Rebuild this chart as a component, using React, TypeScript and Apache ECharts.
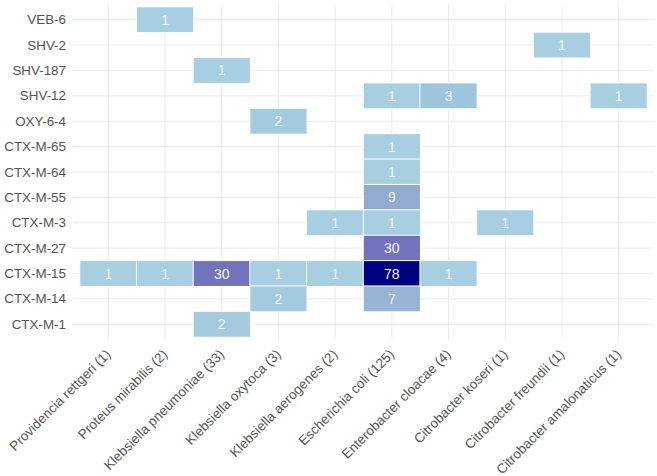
import React, { useEffect, useRef } from "react";
import * as echarts from "echarts";

// Isolate species (with isolate totals), left to right
const species = [
  "Providencia rettgeri (1)",
  "Proteus mirabilis (2)",
  "Klebsiella pneumoniae (33)",
  "Klebsiella oxytoca (3)",
  "Klebsiella aerogenes (2)",
  "Escherichia coli (125)",
  "Enterobacter cloacae (4)",
  "Citrobacter koseri (1)",
  "Citrobacter freundii (1)",
  "Citrobacter amalonaticus (1)",
];

// ESBL genes, bottom to top
const genes = [
  "CTX-M-1",
  "CTX-M-14",
  "CTX-M-15",
  "CTX-M-27",
  "CTX-M-3",
  "CTX-M-55",
  "CTX-M-64",
  "CTX-M-65",
  "OXY-6-4",
  "SHV-12",
  "SHV-187",
  "SHV-2",
  "VEB-6",
];

// Isolate counts per species / gene
const counts: [string, string, number][] = [
  ["Proteus mirabilis (2)", "VEB-6", 1],
  ["Citrobacter freundii (1)", "SHV-2", 1],
  ["Klebsiella pneumoniae (33)", "SHV-187", 1],
  ["Escherichia coli (125)", "SHV-12", 1],
  ["Enterobacter cloacae (4)", "SHV-12", 3],
  ["Citrobacter amalonaticus (1)", "SHV-12", 1],
  ["Klebsiella oxytoca (3)", "OXY-6-4", 2],
  ["Escherichia coli (125)", "CTX-M-65", 1],
  ["Escherichia coli (125)", "CTX-M-64", 1],
  ["Escherichia coli (125)", "CTX-M-55", 9],
  ["Klebsiella aerogenes (2)", "CTX-M-3", 1],
  ["Escherichia coli (125)", "CTX-M-3", 1],
  ["Citrobacter koseri (1)", "CTX-M-3", 1],
  ["Escherichia coli (125)", "CTX-M-27", 30],
  ["Providencia rettgeri (1)", "CTX-M-15", 1],
  ["Proteus mirabilis (2)", "CTX-M-15", 1],
  ["Klebsiella pneumoniae (33)", "CTX-M-15", 30],
  ["Klebsiella oxytoca (3)", "CTX-M-15", 1],
  ["Klebsiella aerogenes (2)", "CTX-M-15", 1],
  ["Escherichia coli (125)", "CTX-M-15", 78],
  ["Enterobacter cloacae (4)", "CTX-M-15", 1],
  ["Klebsiella oxytoca (3)", "CTX-M-14", 2],
  ["Escherichia coli (125)", "CTX-M-14", 7],
  ["Klebsiella pneumoniae (33)", "CTX-M-1", 2],
];

// Fill scale: light blue to navy
const fillStops: [number, [number, number, number]][] = [
  [1, [167, 207, 225]],
  [3, [159, 197, 220]],
  [9, [147, 171, 210]],
  [30, [114, 115, 188]],
  [78, [0, 0, 128]],
];

function fillFor(v: number): string {
  let i = 0;
  while (i < fillStops.length - 2 && v > fillStops[i + 1][0]) i++;
  const [v0, c0] = fillStops[i];
  const [v1, c1] = fillStops[i + 1];
  const t = Math.max(0, Math.min(1, (v - v0) / (v1 - v0)));
  const c = c0.map((a, k) => Math.round(a + (c1[k] - a) * t));
  return `rgb(${c[0]},${c[1]},${c[2]})`;
}

const FONT = "'Liberation Sans', Arial, sans-serif";
const GRID_COLOR = "#ebebeb";
const LABEL_COLOR = "#555555";

export default function App() {
  const ref = useRef<HTMLDivElement>(null);

  useEffect(() => {
    document.body.style.margin = "0";
    document.body.style.overflow = "hidden";
    if (!ref.current) return;
    const chart = echarts.init(ref.current, null, { renderer: "svg" });

    const cells = counts.map(([sp, g, n]) => [species.indexOf(sp), genes.indexOf(g), n]);
    const vMin = fillStops[0][0];
    const vMax = fillStops[fillStops.length - 1][0];
    const ramp: string[] = [];
    for (let v = vMin; v <= vMax; v++) ramp.push(fillFor(v));

    const ext = 0.13;

    chart.setOption({
      animation: false,
      backgroundColor: "#ffffff",
      grid: {
        left: 80,
        right: 10,
        top: 7,
        bottom: 139,
        containLabel: false,
        outerBoundsMode: "none",
      },
      visualMap: {
        show: false,
        type: "continuous",
        dimension: 2,
        min: vMin,
        max: vMax,
        inRange: { color: ramp },
      },
      xAxis: {
        type: "category",
        data: species,
        axisLine: { show: false },
        axisTick: { show: false },
        splitLine: { show: false },
        axisLabel: {
          rotate: 45,
          interval: 0,
          margin: 15,
          color: LABEL_COLOR,
          fontSize: 13.5,
          fontFamily: FONT,
        },
      },
      yAxis: {
        type: "category",
        data: genes,
        axisLine: { show: false },
        axisTick: { show: false },
        splitLine: { show: false },
        axisLabel: {
          interval: 0,
          margin: 14,
          color: LABEL_COLOR,
          fontSize: 13.4,
          fontFamily: FONT,
        },
      },
      series: [
        {
          // vertical major grid lines at each species
          type: "custom",
          z: 0,
          silent: true,
          data: species.map((_, i) => [i, 0]),
          renderItem: (params: any, api: any) => {
            const cs = params.coordSys;
            const x = api.coord([api.value(0), 0])[0];
            const bh = cs.height / genes.length;
            return {
              type: "line",
              shape: { x1: x, y1: cs.y - bh * 0.1, x2: x, y2: cs.y + cs.height + bh * 0.1 },
              style: { stroke: GRID_COLOR, lineWidth: 1 },
            };
          },
        },
        {
          // horizontal major grid lines at each gene
          type: "custom",
          z: 0,
          silent: true,
          data: genes.map((_, j) => [0, j]),
          renderItem: (params: any, api: any) => {
            const cs = params.coordSys;
            const y = api.coord([0, api.value(1)])[1];
            const bw = cs.width / species.length;
            return {
              type: "line",
              shape: { x1: cs.x - bw * ext, y1: y, x2: cs.x + cs.width + bw * ext, y2: y },
              style: { stroke: GRID_COLOR, lineWidth: 1 },
            };
          },
        },
        {
          type: "heatmap",
          z: 2,
          data: cells,
          itemStyle: { borderColor: "#ffffff", borderWidth: 1 },
          label: {
            show: true,
            formatter: (p: any) => String(p.value[2]),
            color: "#f4f6fa",
            fontSize: 14,
            fontFamily: FONT,
          },
          emphasis: { disabled: true },
        },
      ],
    });

    return () => chart.dispose();
  }, []);

  return <div ref={ref} style={{ width: 657, height: 476 }} />;
}
